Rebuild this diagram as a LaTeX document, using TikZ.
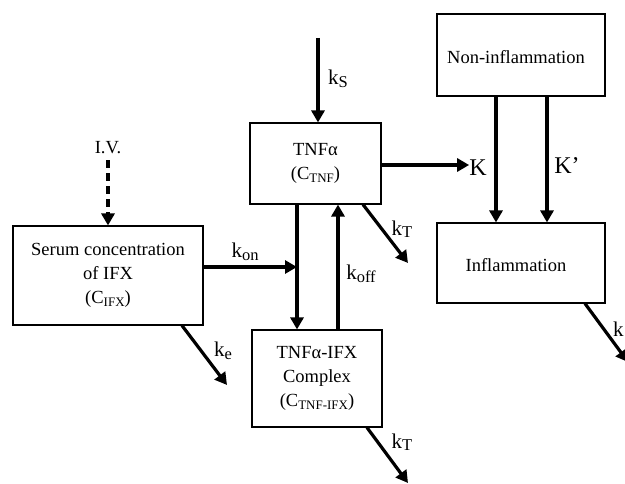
\documentclass[tikz,border=0pt]{standalone}
\usepackage{fontspec}
\setmainfont{Liberation Serif}
\usetikzlibrary{arrows.meta}
\newcommand{\mysub}[1]{\raisebox{-0.3ex}{\fontsize{13}{13}\selectfont #1}}
\newcommand{\labsub}[1]{\raisebox{-0.25ex}{\fontsize{16.5}{16.5}\selectfont #1}}
\begin{document}
\begin{tikzpicture}[x=1pt,y=-1pt,
  box/.style={draw, line width=1.1pt, rectangle, align=center, inner sep=0pt,
    font=\fontsize{18.5}{24}\selectfont},
  flow/.style={line width=3.2pt, -{Triangle[width=13pt,length=12pt]}},
  ivflow/.style={flow, dash pattern=on 8pt off 5pt},
  lab/.style={font=\fontsize{21}{21}\selectfont, inner sep=0pt}]
\useasboundingbox (0,0) rectangle (625,484);

% boxes
\node[box, minimum width=190pt, minimum height=99pt] (serum) at (108,275.5)
  {Serum concentration\\of IFX\\(C\mysub{IFX})};
\node[box, minimum width=131pt, minimum height=81pt] (tnf) at (315.5,163.5)
  {TNFα\\(C\mysub{TNF})};
\node[box, minimum width=130pt, minimum height=97pt] (cplx) at (317,378.5)
  {TNFα-IFX\\Complex\\(C\mysub{TNF-IFX})};
\node[box, minimum width=168pt, minimum height=82pt] (noninf) at (521,55) {};
\node[font=\fontsize{18.5}{24}\selectfont, inner sep=0pt] (nonlab) at (516,57) {Non-inflammation};
\node[box, minimum width=168pt, minimum height=80pt] (inf) at (521,263) {};
\node[font=\fontsize{18.5}{24}\selectfont, inner sep=0pt] (inflab) at (516,265) {Inflammation};

% helper coordinates
\coordinate (ks0) at (318,38);
\coordinate (xd) at (297,0);
\coordinate (xu) at (338,0);
\coordinate (ykon) at (0,267);
\coordinate (yK) at (0,165);
\coordinate (xa) at (496,0);
\coordinate (xb) at (547,0);
\coordinate (kts) at (363,0);
\coordinate (kte) at (408,263);
\coordinate (kes) at (182,0);
\coordinate (kee) at (227,385);
\coordinate (kcs) at (367,0);
\coordinate (kce) at (408,483);
\coordinate (kds) at (585,0);
\coordinate (kde) at (628,362);

% labels
\node[font=\fontsize{18.5}{24}\selectfont, inner sep=0pt] (iv) at (108,148) {I.V.};
\node[lab] (ks) at (338,79) {k\labsub{S}};
\node[lab] (kon) at (245,252) {k\labsub{on}};
\node[lab] (koff) at (361,274) {k\labsub{off}};
\node[lab] (kt1) at (402,229) {k\labsub{T}};
\node[lab] (kt2) at (402,442) {k\labsub{T}};
\node[lab] (ke) at (223,351) {k\labsub{e}};
\node[lab, font=\fontsize{24}{24}\selectfont] (K) at (478,168) {K};
\node[lab, font=\fontsize{24}{24}\selectfont] (Kp) at (567,166) {K’};
\node[lab, anchor=west] (kd) at (613,329) {k};

% arrows
\draw[flow] (ks0) -- (ks0 |- tnf.north);
\draw[ivflow] (iv.south) ++(0,6) -- (iv.south |- serum.north);
\draw[flow] (serum.east |- ykon) -- (xd |- ykon);
\draw[flow] (tnf.south -| xd) -- (cplx.north -| xd);
\draw[flow] (cplx.north -| xu) -- (tnf.south -| xu);
\draw[flow] (tnf.south -| kts) -- (kte);
\draw[flow] (tnf.east |- yK) -- (K.west |- yK);
\draw[flow] (noninf.south -| xa) -- (inf.north -| xa);
\draw[flow] (noninf.south -| xb) -- (inf.north -| xb);
\draw[flow] (inf.south -| kds) -- (kde);
\draw[flow] (serum.south -| kes) -- (kee);
\draw[flow] (cplx.south -| kcs) -- (kce);
\end{tikzpicture}
\end{document}
